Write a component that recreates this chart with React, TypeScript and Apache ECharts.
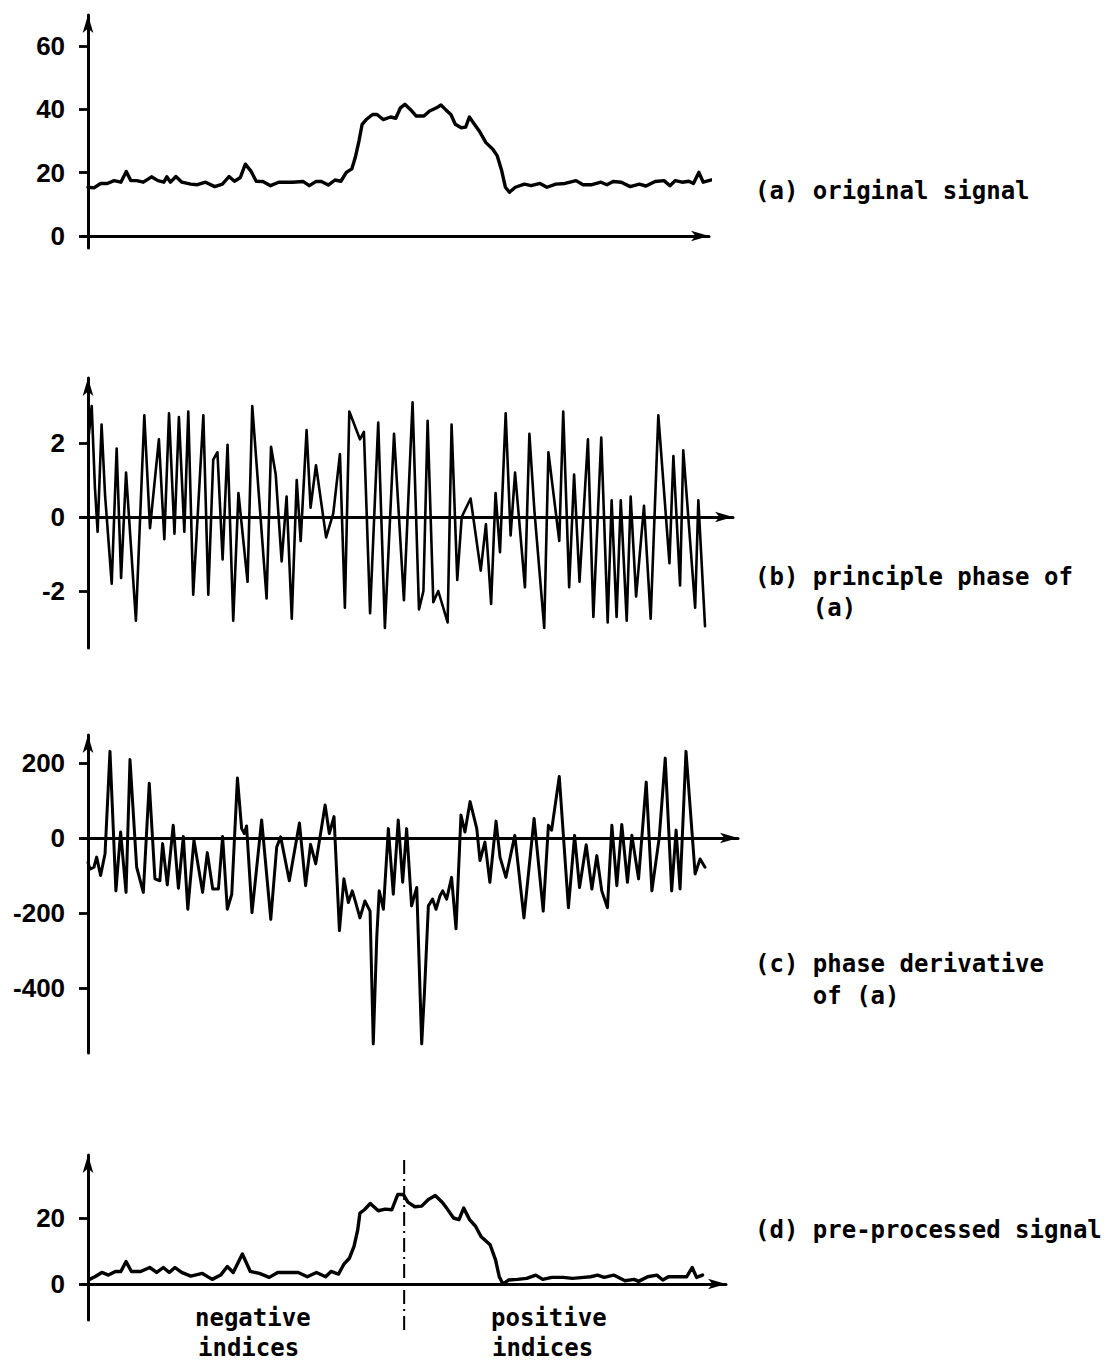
import React, { useEffect, useRef } from "react";
import * as echarts from "echarts";

// [sample index, value]
const SIGNAL_A: number[][] = [
  [0, 15.4], [2.4, 15.2], [5.1, 16.6], [7.8, 16.6], [10.6, 17.5], [13.3, 17], [15.5, 20.4], [17.3, 17.5],
  [19.7, 17.5], [22.4, 17], [25.7, 18.7], [28.3, 17.5], [30.7, 17], [31.9, 18.7], [33.4, 17], [35.6, 18.8],
  [38, 17], [41.6, 16.4], [44.3, 16.2], [47.6, 17], [51.3, 15.6], [54.4, 16.4], [57.1, 18.8], [59.3, 17.3],
  [61.7, 18.5], [63.7, 22.7], [65.9, 20.6], [68.1, 17.3], [70.8, 17.2], [73.9, 15.9], [77.2, 17], [82.7, 17],
  [87.2, 17.2], [89.6, 15.9], [92.2, 17.2], [94.5, 17.2], [97.3, 16.1], [100, 17.7], [102.4, 17.3], [104.6, 20.1],
  [106.8, 21.2], [108.2, 24.8], [109.7, 30], [111, 35.3], [112.8, 36.9], [115.2, 38.4], [117, 38.4], [119.5, 36.8],
  [122.5, 37.6], [124.6, 37.2], [126.5, 40.5], [128.3, 41.6], [130.5, 40], [132.9, 37.9], [136, 37.9], [138.3, 39.5],
  [141.1, 40.5], [142.9, 41.4], [144.7, 40], [146.9, 38.4], [148.7, 35.3], [151.1, 34.2], [152.9, 34.4], [154.4, 37.6],
  [156, 35.8], [158.4, 33.2], [161.1, 29.5], [163.9, 27.4], [165.7, 25.3], [167.5, 20.6], [169, 15.4], [170.6, 13.8],
  [173, 15.4], [176.7, 16.4], [179.4, 15.9], [183, 16.6], [185.8, 15.4], [189.4, 16.4], [193.1, 16.6], [197.6, 17.5],
  [200.4, 16.2], [204, 16.2], [207.7, 17], [210.1, 16.2], [212.6, 17.2], [215.9, 17], [219.5, 15.6], [223.2, 16.4],
  [225.9, 15.8], [229.6, 17.2], [233.2, 17.5], [235.6, 15.9], [237.8, 17.5], [240.5, 17], [243.3, 17.3], [245.1, 16.6],
  [247.3, 20.1], [249.1, 17], [252.4, 17.7],
];

const SIGNAL_B: number[][] = [
  [0, 2.0], [1.5, 3.0], [2.8, 0.8], [3.9, -0.4], [5.5, 2.5], [6.9, 0.6], [9.6, -1.8], [11.6, 1.85],
  [13.4, -1.65], [15.4, 1.2], [19.4, -2.8], [22.8, 2.75], [25.1, -0.3], [28.7, 2.1], [30.9, -0.6], [32.8, 2.8],
  [35, -0.45], [36.8, 2.7], [39, -0.4], [40.6, 2.85], [42.6, -2.1], [46.7, 2.75], [48.7, -2.1], [50.7, 1.55],
  [52.4, 1.75], [54.5, -1.15], [56.5, 1.95], [58.8, -2.8], [60.9, 0.65], [64.6, -1.75], [66.5, 3.0], [72.3, -2.2],
  [74.1, 1.9], [76, 1.15], [78.4, -1.2], [80.4, 0.55], [82.5, -2.75], [84.5, 1.0], [86.1, -0.65], [88.5, 2.35],
  [90.1, 0.25], [92.3, 1.4], [96.4, -0.55], [99.3, 0.1], [102, 1.7], [104, -2.45], [105.8, 2.85], [110.1, 2.1],
  [111.7, 2.3], [114.2, -2.6], [117.5, 2.55], [120.2, -3.0], [123.9, 2.25], [127.9, -2.25], [131.4, 3.1], [134, -2.5],
  [135.8, -2.0], [137.5, 2.6], [139.8, -2.3], [141.8, -2.0], [145.6, -2.85], [147.2, 2.5], [149.5, -1.7], [151.3, 0.0],
  [154.9, 0.5], [159, -1.45], [161.1, -0.2], [163.2, -2.35], [165, 0.65], [166.8, -0.95], [169.1, 2.8], [171.1, -0.5],
  [172.9, 1.2], [176.9, -1.9], [178.7, 2.25], [180.7, 0.2], [184.7, -3.0], [186.4, 1.75], [190.8, -0.65], [192.4, 2.85],
  [194.8, -1.9], [196.8, 1.15], [199, -1.75], [202.4, 2.1], [204.6, -2.7], [207.8, 2.15], [210.4, -2.85], [212, 0.45],
  [214, -2.7], [215.7, 0.45], [218.1, -2.8], [219.7, 0.55], [221.9, -2.15], [225.1, 0.3], [227.8, -2.75], [230.9, 2.75],
  [235.4, -1.25], [237, 1.65], [239.7, -1.85], [241, 1.8], [245.8, -2.45], [247.1, 0.45], [249.8, -2.95],
];

const SIGNAL_C: number[][] = [
  [0, -65], [0.8, -83], [2.4, -78], [3.5, -51], [5.1, -100], [6.9, -42], [8.9, 231], [11.3, -141],
  [13.2, 16], [15.4, -145], [17, 209], [19.7, -78], [22.4, -145], [24.8, 146], [27.1, -109], [29.1, -114],
  [30.2, -15], [32.1, -125], [34.5, 34], [36.6, -134], [38.6, 4], [40.4, -190], [42.9, -6], [46.4, -145],
  [48.3, -39], [50.5, -136], [52.8, -136], [54.5, 4], [56.4, -190], [58.2, -150], [60.5, 160], [62.2, 25],
  [63.3, 12], [64.2, 32], [66.4, -199], [70.3, 48], [74, -217], [76.4, -24], [78, 3], [81.5, -114],
  [85.6, 40], [88.1, -127], [90.1, -17], [92.2, -69], [96, 88], [97.7, 12], [99.6, 57], [101.8, -247],
  [103.6, -109], [105.4, -172], [107, -141], [108.5, -175], [110.1, -213], [112.1, -168], [114.2, -195], [115.5, -549],
  [116.9, -266], [117.9, -141], [119.6, -190], [121.6, 25], [123.6, -150], [125.6, 48], [127.4, -118], [129, 25],
  [131, -181], [133.1, -132], [135.1, -549], [136.2, -414], [137.8, -181], [139.5, -163], [140.9, -190], [142.5, -154],
  [143.6, -141], [145.2, -163], [147.2, -105], [149, -242], [151, 61], [152.6, 16], [154.7, 97], [157.4, 25],
  [158.7, -60], [160.7, -11], [162.7, -118], [165.2, 45], [166.8, -51], [169.2, -105], [172.8, 7], [176.5, -213],
  [180.6, 52], [184.3, -195], [186.4, 34], [187.7, 21], [190.8, 164], [194.5, -186], [197, 7], [199, -132],
  [201.7, -18], [204, -136], [206, -47], [208, -141], [210.3, -186], [212.1, 34], [214.1, -127], [216.1, 36],
  [218.4, -118], [220.2, 7], [222.9, -109], [226, 149], [228.3, -141], [231.3, 3], [233.7, 213], [236.3, -141],
  [238.1, 21], [239.7, -136], [242.1, 231], [245.8, -96], [247.8, -56], [249.8, -78],
];

const SIGNAL_D: number[][] = [
  [0.6, 1.4], [2.8, 2.2], [5.6, 3.5], [8.3, 2.7], [11.1, 3.8], [13.3, 3.8], [15.4, 6.8], [17.6, 3.8],
  [21.3, 3.8], [25, 5], [27.8, 3.5], [30.5, 5], [32.9, 3.5], [35.2, 5], [37.9, 3.5], [41.6, 2.4],
  [46.3, 3.2], [50.3, 1.4], [53.7, 2.7], [56.4, 5.3], [58.8, 3.5], [62.5, 9.1], [65.7, 3.8], [69.4, 3.2],
  [73.4, 2], [76.8, 3.5], [85.1, 3.5], [88.8, 2.2], [92.5, 3.5], [96.2, 2.2], [98.4, 3.8], [101.4, 3],
  [103.6, 6], [105.8, 7.8], [107.7, 11.4], [109.2, 16.4], [110.1, 21.5], [111.9, 22.5], [114.3, 24.4], [117.5, 22.2],
  [120.3, 22.7], [123, 22.5], [125.4, 27.1], [127.7, 27.1], [129.5, 24.8], [132.3, 23.4], [135.1, 23.6], [137.8, 25.6],
  [140.6, 26.8], [143.4, 24.8], [145.2, 23], [148, 20], [150.2, 19.5], [152.1, 23], [154.5, 19.5], [156.9, 17.5],
  [159.1, 14.4], [162.8, 11.9], [165, 7.3], [166.5, 2.2], [168, 0], [170.2, 1.2], [173.9, 1.4], [177.6, 1.7],
  [181.3, 2.7], [184.1, 1.4], [187.8, 2], [192.4, 2], [196.1, 1.7], [200.7, 2], [203.5, 2.2], [206.3, 2.7],
  [209, 2], [212.8, 2.7], [217.4, 1], [221.1, 1.4], [222.9, 0.8], [226.6, 2.2], [230.3, 2.7], [232.7, 1.2],
  [235, 2.2], [238.7, 2.2], [242.4, 2.2], [244.6, 5], [246.4, 2], [248.8, 2.7],
];

const TICKS_A = [0, 20, 40, 60];
const TICKS_B = [-2, 0, 2];
const TICKS_C = [-400, -200, 0, 200];
const TICKS_D = [0, 20];

// zero-index divider (dash-dot) in panel (d): [index, value]
const DIVIDER: number[][] = [[128, 37.6], [128, -14.5]];

const LABELS = {
  a: ["(a) original signal"],
  b: ["(b) principle phase of", "(a)"],
  c: ["(c) phase derivative", "of (a)"],
  d: ["(d) pre-processed signal"],
  neg: ["negative", "indices"],
  pos: ["positive", "indices"],
};

// ---------- layout ----------
const W = 1109;
const H = 1362;
const AXIS_X = 88;
const PX_PER_IDX = 2.47;
const X_MIN = -2.4;
const ARROW = [8, 18];
const MONO = "'DejaVu Sans Mono', 'Liberation Mono', monospace";
const SANS = "'Liberation Sans', Arial, sans-serif";

type Panel = {
  data: number[][];
  ticks: number[];
  zeroY: number;
  unitPx: number;
  topTip: number;
  bottomY: number;
  tipX: number;
  lineWidth: number;
};

const PANELS: Panel[] = [
  { data: SIGNAL_A, ticks: TICKS_A, zeroY: 236, unitPx: 3.165, topTip: 6, bottomY: 248, tipX: 718, lineWidth: 3.4 },
  { data: SIGNAL_B, ticks: TICKS_B, zeroY: 517, unitPx: 37, topTip: 369, bottomY: 648, tipX: 742, lineWidth: 2.6 },
  { data: SIGNAL_C, ticks: TICKS_C, zeroY: 838, unitPx: 0.375, topTip: 726, bottomY: 1053, tipX: 747, lineWidth: 3 },
  { data: SIGNAL_D, ticks: TICKS_D, zeroY: 1284, unitPx: 3.3, topTip: 1146, bottomY: 1320, tipX: 735, lineWidth: 3.4 },
];

function buildOption() {
  const grids: any[] = [];
  const xAxes: any[] = [];
  const yAxes: any[] = [];
  const series: any[] = [];
  const axisLineStyle = { color: "#000", width: 3 };

  PANELS.forEach((p, i) => {
    const top = p.topTip + ARROW[1] / 2;
    const height = p.bottomY - top;
    const yMax = (p.zeroY - top) / p.unitPx;
    const yMin = -(p.bottomY - p.zeroY) / p.unitPx;
    const left = AXIS_X + X_MIN * PX_PER_IDX;
    const rightEnd = p.tipX - ARROW[1] / 2;
    const xMax = (rightEnd - AXIS_X) / PX_PER_IDX;

    grids.push({ left, top, width: rightEnd - left, height, containLabel: false });
    xAxes.push({
      type: "value",
      gridIndex: i,
      min: X_MIN,
      max: xMax,
      axisLine: { show: true, onZero: true, symbol: ["none", "arrow"], symbolSize: ARROW, lineStyle: axisLineStyle },
      axisTick: { show: false },
      axisLabel: { show: false },
      splitLine: { show: false },
    });
    yAxes.push({
      type: "value",
      gridIndex: i,
      min: yMin,
      max: yMax,
      axisLine: { show: true, onZero: true, symbol: ["none", "arrow"], symbolSize: ARROW, lineStyle: axisLineStyle },
      axisTick: { show: true, inside: false, length: 9, lineStyle: { color: "#000", width: 2.8 }, customValues: p.ticks },
      axisLabel: {
        show: true,
        customValues: p.ticks,
        margin: 17,
        fontSize: 26,
        fontWeight: "bold",
        fontFamily: SANS,
        color: "#000",
      },
      splitLine: { show: false },
    });
    series.push({
      type: "line",
      xAxisIndex: i,
      yAxisIndex: i,
      data: p.data,
      symbol: "none",
      showSymbol: false,
      smooth: false,
      lineStyle: { color: "#000", width: p.lineWidth, join: "round", cap: "round" },
      z: 3,
    });
  });

  series.push({
    type: "line",
    xAxisIndex: 3,
    yAxisIndex: 3,
    data: DIVIDER,
    symbol: "none",
    clip: false,
    lineStyle: { color: "#000", width: 2, type: [14, 5, 2, 5] },
    z: 2,
  });

  const CHAR_W = 14.45;
  const txt = (text: string, x: number, y: number) => ({
    type: "text",
    x,
    y,
    style: {
      text,
      fill: "#000",
      font: `bold 24px ${MONO}`,
      textAlign: "left",
      textVerticalAlign: "middle",
    },
  });
  const LX = 755;
  const graphic = [
    txt(LABELS.a[0], LX, 191),
    txt(LABELS.b[0], LX, 577),
    txt(LABELS.b[1], LX + 4 * CHAR_W, 608),
    txt(LABELS.c[0], LX, 964),
    txt(LABELS.c[1], LX + 4 * CHAR_W, 996),
    txt(LABELS.d[0], LX, 1230),
    txt(LABELS.neg[0], 195, 1318),
    txt(LABELS.neg[1], 198, 1348),
    txt(LABELS.pos[0], 491, 1318),
    txt(LABELS.pos[1], 492, 1348),
  ];

  return {
    animation: false,
    backgroundColor: "#fff",
    grid: grids,
    xAxis: xAxes,
    yAxis: yAxes,
    series,
    graphic,
  };
}

export default function App() {
  const ref = useRef<HTMLDivElement>(null);
  useEffect(() => {
    if (!ref.current) return;
    const chart = echarts.init(ref.current, undefined, { renderer: "svg" });
    chart.setOption(buildOption() as any);
    return () => chart.dispose();
  }, []);
  return (
    <div
      ref={ref}
      style={{ position: "absolute", left: 0, top: 0, width: W, height: H, background: "#fff" }}
    />
  );
}
